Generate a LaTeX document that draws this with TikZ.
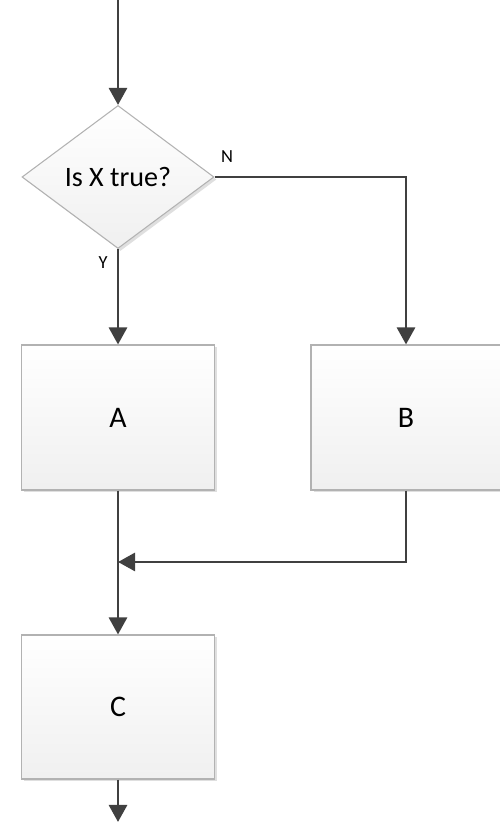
\documentclass[tikz,border=0pt]{standalone}
\usepackage{fontspec}
\setmainfont{Carlito}
\usetikzlibrary{shapes.geometric, arrows.meta, shadows, positioning}

\tikzset{
  flowbox/.style={draw=gray!60, line width=0.6pt, top color=white, bottom color=gray!12,
    drop shadow={shadow xshift=0.05cm, shadow yshift=-0.05cm, fill=gray!25, opacity=1},
    minimum width=3.86cm, minimum height=2.9cm, inner sep=0pt, font=\fontsize{17}{20}\selectfont},
  flowlink/.style={draw=black!75, line width=1.6pt, -{Triangle[length=0.34cm, width=0.36cm]}}
}

\begin{document}
\begin{tikzpicture}
    \useasboundingbox (0,0) rectangle (10,16.52);
    % Beslissing
    \coordinate (start) at (2.36,16.52);
    \node[flowbox, diamond, shape aspect=1.34, minimum width=3.84cm, minimum height=2.86cm,
      font=\fontsize{16}{19}\selectfont] (check) at (2.36,12.98) {Is X true?};
    \node[font=\fontsize{10.5}{12}\selectfont] (nlabel) at (4.54,13.38) {N};
    \node[font=\fontsize{10.5}{12}\selectfont] (ylabel) at (2.06,11.26) {Y};
    % Blokken
    \node[flowbox] (boxa) at (2.36,8.17) {A};
    \node[flowbox, minimum width=3.8cm] (boxb) at (8.12,8.17) {B};
    \node[flowbox, minimum height=2.88cm] (boxc) at (2.36,2.38) {C};
    \coordinate (merge) at (2.36,5.28);
    \coordinate (finish) at (2.36,0.08);
    % Verbindingen
    \draw[flowlink] (start) -- (check.north);
    \draw[flowlink] (check.south) -- (boxa.north);
    \draw[flowlink] (check.east) -| (boxb.north);
    \draw[flowlink, -] (boxa.south) -- (merge);
    \draw[flowlink] (merge) -- (boxc.north);
    \draw[flowlink] (boxb.south) |- (merge);
    \draw[flowlink] (boxc.south) -- (finish);
\end{tikzpicture}
\end{document}
